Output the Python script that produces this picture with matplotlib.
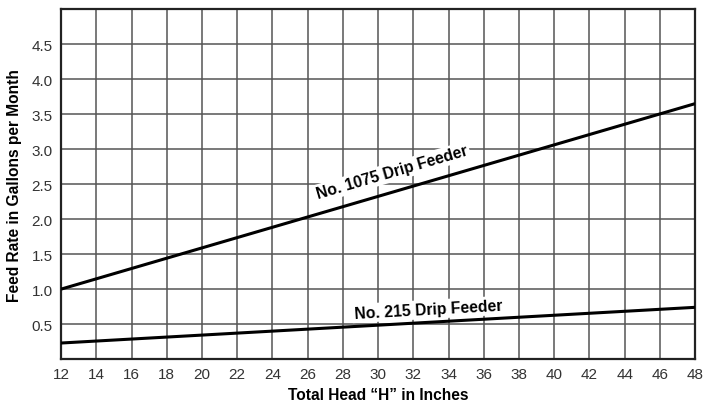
import numpy as np
import matplotlib
matplotlib.use("Agg")
import matplotlib.pyplot as plt

plt.rcParams['font.family'] = ['Liberation Sans', 'DejaVu Sans']

# head in inches vs feed rate in gallons per month
head = [12, 48]
feed_1075 = [1.0, 3.65]
feed_215 = [0.23, 0.74]

x_ticks = list(range(12, 50, 2))
y_ticks = [0.5, 1.0, 1.5, 2.0, 2.5, 3.0, 3.5, 4.0, 4.5]

fig = plt.figure(figsize=(7.1, 4.06), dpi=100)
ax = fig.add_axes([0.086, 0.113, 0.893, 0.862])

ax.plot(head, feed_1075, color='black', lw=2.2, solid_capstyle='butt', zorder=3)
ax.plot(head, feed_215, color='black', lw=2.2, solid_capstyle='butt', zorder=3)

ax.set_xlim(12, 48)
ax.set_ylim(0, 5)
ax.set_xticks(x_ticks)
ax.set_yticks(y_ticks)
ax.set_yticks([5.0], minor=True)
ax.set_yticklabels([f'{v:.1f}' for v in y_ticks])
ax.tick_params(length=0, labelsize=11, colors='#333333', pad=6)
ax.tick_params(which='minor', length=0)
ax.grid(True, which='both', color='#555555', lw=1.1)
ax.set_axisbelow(True)
for s in ax.spines.values():
    s.set_linewidth(1.6)
    s.set_color('#222222')

ax.set_xlabel('Total Head \u201cH\u201d in Inches', fontsize=11.2, fontweight='bold', labelpad=4)
ax.set_ylabel('Feed Rate in Gallons per Month', fontsize=11.2, fontweight='bold', labelpad=7)

box = dict(facecolor='white', edgecolor='none', pad=1.5)
ax.text(30.8, 2.67, 'No. 1075 Drip Feeder', rotation=16.3, ha='center', va='center',
        fontsize=11.3, fontweight='bold', bbox=box, zorder=2, rotation_mode='anchor')
ax.text(32.85, 0.71, 'No. 215 Drip Feeder', rotation=3.2, ha='center', va='center',
        fontsize=11.3, fontweight='bold', bbox=box, zorder=2, rotation_mode='anchor')

fig.savefig('out.png', dpi=100)
